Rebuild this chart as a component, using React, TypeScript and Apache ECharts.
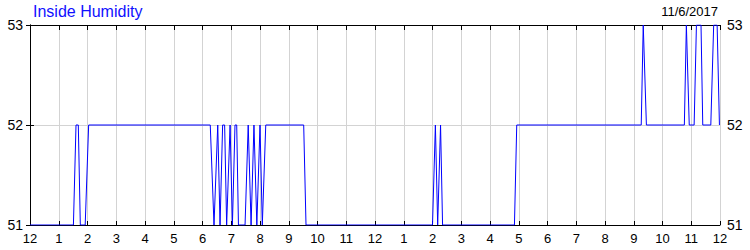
import React, { useEffect, useRef } from "react";
import * as echarts from "echarts";

// Time of day in hours (0 = 12 AM, 24 = next 12 AM)
const hours: number[] = [
  0, 1.51, 1.6, 1.68, 1.75, 1.92, 2.04,
  6.27, 6.4, 6.53, 6.61, 6.7, 6.77, 6.84, 6.96, 7.04, 7.13, 7.19, 7.25, 7.48,
  7.59, 7.69, 7.79, 7.89, 8.0, 8.08, 8.2,
  9.52, 9.6,
  14.0, 14.1, 14.18, 14.28, 14.35,
  16.85, 16.93,
  21.26, 21.33, 21.44,
  22.76, 22.83, 22.93, 23.1, 23.18, 23.34, 23.4, 23.68, 23.78, 23.9, 23.98, 24,
];
// Inside humidity (%)
const humidity: number[] = [
  51, 51, 52, 52, 51, 51, 52,
  52, 51, 52, 51, 52, 52, 51, 52, 51, 52, 52, 51, 51,
  52, 51, 52, 51, 52, 51, 52,
  52, 51,
  51, 52, 51, 52, 51,
  51, 52,
  52, 53, 52,
  52, 53, 52, 52, 53, 53, 52, 52, 53, 53, 52, 52,
];
const hourTickLabels: string[] = [
  "12", "1", "2", "3", "4", "5", "6", "7", "8", "9", "10", "11",
  "12", "1", "2", "3", "4", "5", "6", "7", "8", "9", "10", "11", "12",
];
const titleText = "Inside Humidity";
const dateText = "11/6/2017";

const FONT = "'Liberation Sans', Arial, sans-serif";

export default function App() {
  const ref = useRef<HTMLDivElement>(null);
  useEffect(() => {
    if (!ref.current) return;
    const chart = echarts.init(ref.current, undefined, { renderer: "svg" });
    const data = hours.map((h, i) => [h, humidity[i]]);
    const tickStyle = { show: true, inside: true, length: 5, lineStyle: { color: "#000", width: 1 } };
    const yBase = {
      type: "value" as const,
      min: 51,
      max: 53,
      interval: 1,
      axisLine: { show: true, lineStyle: { color: "#000", width: 1 } },
      axisTick: { ...tickStyle, length: 4 },
      axisLabel: { color: "#000", fontSize: 14, fontFamily: FONT, margin: 7 },
    };
    chart.setOption({
      animation: false,
      backgroundColor: "#fff",
      grid: { left: 30, right: 30, top: 25, bottom: 25, containLabel: false },
      xAxis: [
        {
          type: "value",
          min: 0,
          max: 24,
          interval: 1,
          position: "bottom",
          axisLine: { show: true, onZero: false, lineStyle: { color: "#000", width: 1 } },
          axisTick: { ...tickStyle, length: 4 },
          splitLine: { show: true, lineStyle: { color: "#d3d3d3", width: 1 } },
          axisLabel: {
            color: "#000",
            fontSize: 13,
            fontFamily: FONT,
            margin: 7,
            showMinLabel: true,
            showMaxLabel: true,
            formatter: (v: number) => hourTickLabels[Math.round(v)] ?? "",
          },
        },
        {
          type: "value",
          min: 0,
          max: 24,
          interval: 1,
          position: "top",
          axisLine: { show: true, onZero: false, lineStyle: { color: "#000", width: 1 } },
          axisTick: tickStyle,
          splitLine: { show: false },
          axisLabel: { show: false },
        },
      ],
      yAxis: [
        {
          ...yBase,
          position: "left",
          splitLine: { show: true, lineStyle: { color: "#d3d3d3", width: 1 } },
        },
        {
          ...yBase,
          position: "right",
          splitLine: { show: false },
        },
      ],
      graphic: [
        {
          type: "text",
          left: 33,
          top: 3,
          style: { text: titleText, fill: "#1010ff", font: `16px ${FONT}` },
        },
        {
          type: "text",
          right: 32,
          top: 5,
          style: { text: dateText, fill: "#000", font: `13px ${FONT}` },
        },
      ],
      series: [
        {
          type: "line",
          xAxisIndex: 0,
          yAxisIndex: 0,
          data,
          showSymbol: false,
          symbol: "none",
          lineStyle: { color: "#0000ff", width: 1 },
        },
      ],
    });
    return () => chart.dispose();
  }, []);
  return (
    <div
      ref={ref}
      style={{ position: "fixed", left: 0, top: 0, width: 750, height: 250 }}
    />
  );
}
